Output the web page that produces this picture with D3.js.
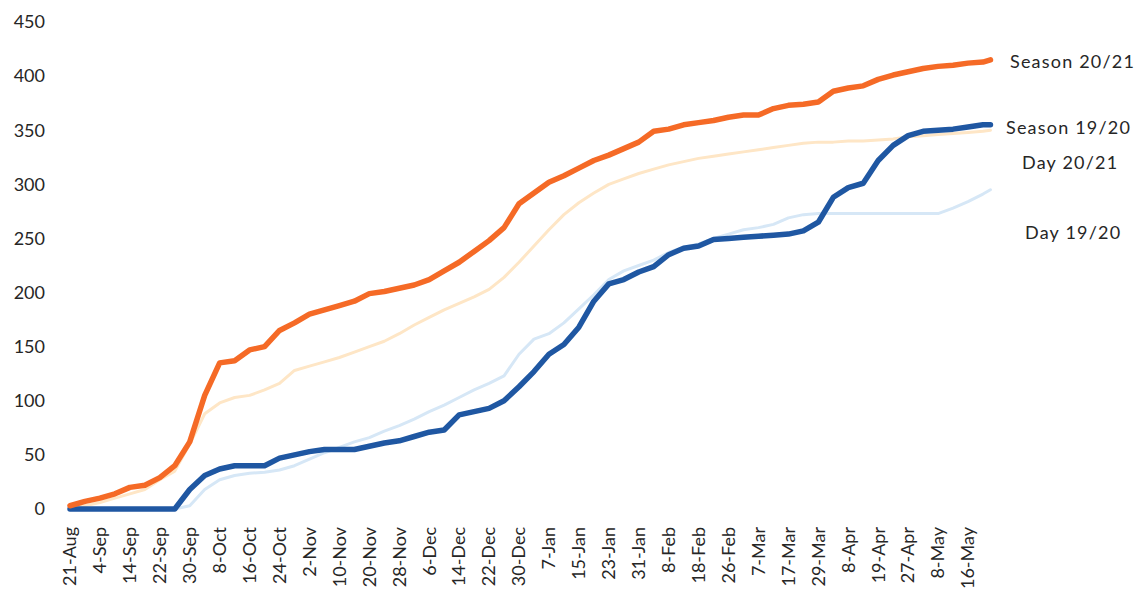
<!DOCTYPE html>
<html>
<head>
<meta charset="utf-8">
<script src="https://cdn.jsdelivr.net/npm/d3@7"></script>
<style>
  body { margin: 0; background: #fff; }
  text { font-family: Lato, "Open Sans", sans-serif; fill: #262626; }
</style>
</head>
<body>
<div id="chart"></div>
<script>
// tick labels, one every 8 categories
const tickLabels = ["21-Aug","4-Sep","14-Sep","22-Sep","30-Sep","8-Oct","16-Oct","24-Oct","2-Nov","10-Nov",
  "20-Nov","28-Nov","6-Dec","14-Dec","22-Dec","30-Dec","7-Jan","15-Jan","23-Jan","31-Jan",
  "8-Feb","18-Feb","26-Feb","7-Mar","17-Mar","29-Mar","8-Apr","19-Apr","27-Apr","8-May","16-May"];

// category index of each sample (every 4 categories, last one at 246)
const catIdx = [0,4,8,12,16,20,24,28,32,36,40,44,48,52,56,60,64,68,72,76,80,84,88,92,96,100,
  104,108,112,116,120,124,128,132,136,140,144,148,152,156,160,164,168,172,176,180,184,188,192,
  196,200,204,208,212,216,220,224,228,232,236,240,244,246];

const season2021 = [3,7,10,14,20,22,29,40,62,105,135,137,147,150,165,172,180,184,188,192,199,201,
  204,207,212,220,228,238,248,260,282,292,302,308,315,322,327,333,339,349,351,355,357,359,362,364,
  364,370,373,374,376,386,389,391,397,401,404,407,409,410,412,413,415];

const season1920 = [0,0,0,0,0,0,0,0,18,31,37,40,40,40,47,50,53,55,55,55,58,61,63,67,71,73,87,90,
  93,100,113,127,143,152,168,192,208,212,219,224,235,241,243,249,250,251,252,253,254,257,265,288,
  297,301,322,336,345,349,350,351,353,355,355];

const day2021 = [1,3,6,10,14,18,27,35,60,88,98,103,105,110,116,128,132,136,140,145,150,155,162,
  170,177,184,190,196,203,214,228,243,258,272,283,292,300,305,310,314,318,321,324,326,328,330,332,
  334,336,338,339,339,340,340,341,342,344,345,346,347,348,349,350];

const day1920 = [0,0,0,0,0,0,0,0,3,18,27,31,33,34,36,40,46,52,57,62,66,72,77,83,90,96,103,110,116,
  123,143,157,162,172,185,198,212,220,225,230,237,242,245,250,254,258,260,263,269,272,273,273,273,
  273,273,273,273,273,273,278,284,291,295];

const yTicks = [0,50,100,150,200,250,300,350,400,450];

const series = [
  {name: "Day 19/20", values: day1920, color: "#d6e7f6", width: 3},
  {name: "Day 20/21", values: day2021, color: "#fee6c6", width: 3},
  {name: "Season 19/20", values: season1920, color: "#1f57a2", width: 5.5},
  {name: "Season 20/21", values: season2021, color: "#f56a26", width: 5.5}
];

const width = 1148, height = 600;
const svg = d3.select("#chart").append("svg")
  .attr("width", width).attr("height", height);

const x = d3.scaleLinear().domain([0, 240]).range([70, 968]);
const y = d3.scaleLinear().domain([0, 450]).range([509, 22]);

// y axis labels
svg.append("g")
  .selectAll("text")
  .data(yTicks)
  .join("text")
  .attr("x", 45)
  .attr("y", d => y(d))
  .attr("dy", "0.35em")
  .attr("text-anchor", "end")
  .style("font-size", "18px")
  .text(d => d);

// x axis labels, rotated
svg.append("g")
  .selectAll("text")
  .data(tickLabels)
  .join("text")
  .attr("transform", (d, i) => `translate(${x(i * 8)},527) rotate(-90)`)
  .attr("dy", "0.35em")
  .attr("text-anchor", "end")
  .style("font-size", "18px")
  .text(d => d);

const line = d3.line()
  .x((d, i) => x(catIdx[i]))
  .y(d => y(d));

svg.append("g")
  .selectAll("path")
  .data(series)
  .join("path")
  .attr("fill", "none")
  .attr("stroke", d => d.color)
  .attr("stroke-width", d => d.width)
  .attr("stroke-linejoin", "round")
  .attr("stroke-linecap", "round")
  .attr("d", d => line(d.values));

// end labels
const endLabels = [
  {text: "Season 20/21", v: 413, dx: 1010},
  {text: "Season 19/20", v: 352, dx: 1006},
  {text: "Day 20/21", v: 320, dx: 1022},
  {text: "Day 19/20", v: 255, dx: 1025}
];
svg.append("g")
  .selectAll("text")
  .data(endLabels)
  .join("text")
  .attr("x", d => d.dx)
  .attr("y", d => y(d.v))
  .attr("dy", "0.35em")
  .style("font-size", "18px")
  .style("letter-spacing", "1.2px")
  .text(d => d.text);
</script>
</body>
</html>
